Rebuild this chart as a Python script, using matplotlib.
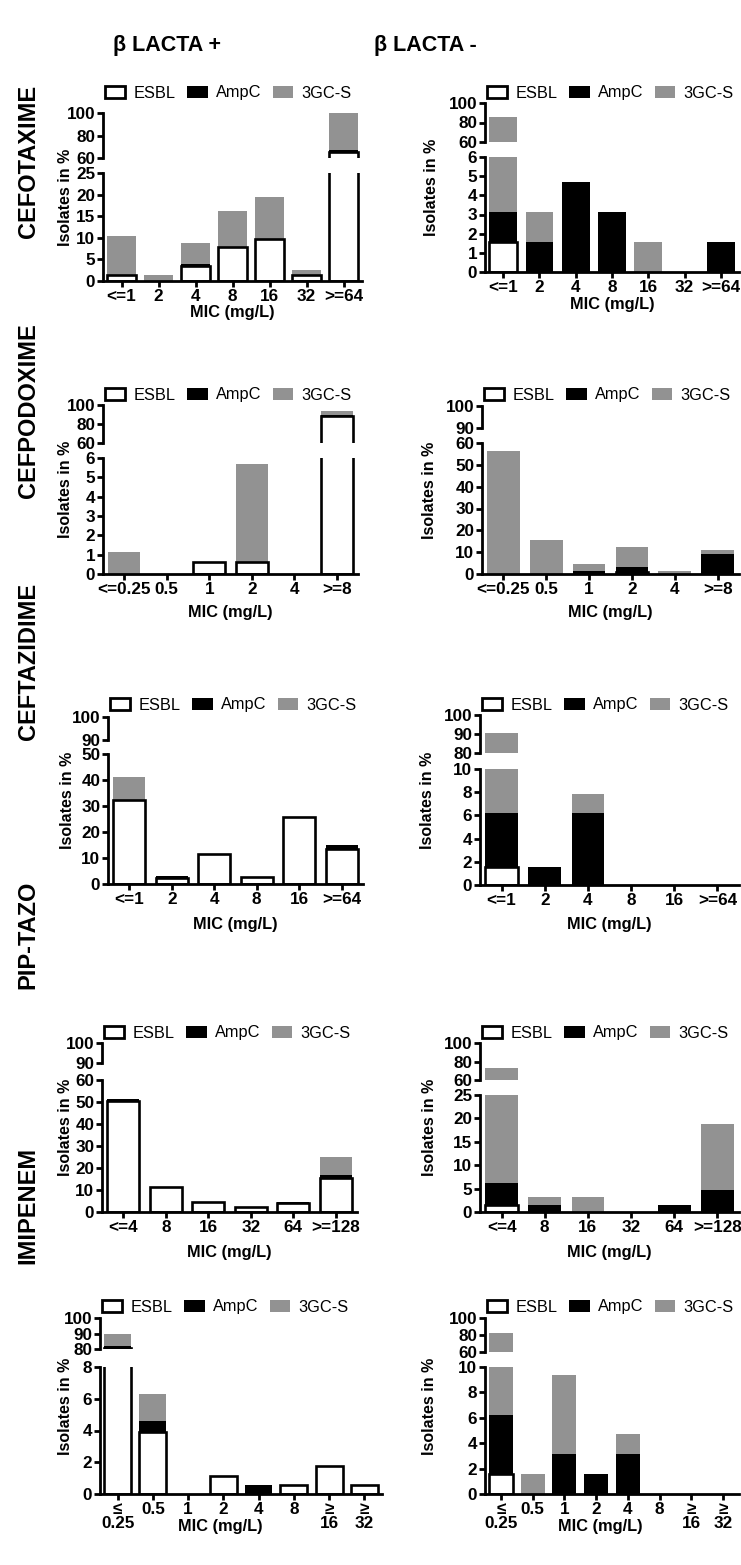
import numpy as np
import matplotlib.pyplot as plt
from matplotlib.patches import Patch

plt.rcParams['font.family'] = ['Liberation Sans', 'DejaVu Sans']

W, H = 741, 1565
GRAY = '#929292'

# ---- data (% isolates per MIC class; ESBL / AmpC / 3GC-S stacked) ----
mic_ctx = ['<=1', '2', '4', '8', '16', '32', '>=64']
ctx_pos_esbl = [1.3, 0, 3.4, 7.9, 9.7, 1.3, 65.5]
ctx_pos_ampc = [0, 0, 0.6, 0, 0, 0, 2.0]
ctx_pos_gc = [9.1, 1.3, 4.7, 8.2, 9.7, 1.2, 32.5]
ctx_neg_esbl = [1.56, 0, 0, 0, 0, 0, 0]
ctx_neg_ampc = [1.56, 1.56, 4.69, 3.13, 0, 0, 1.56]
ctx_neg_gc = [82.9, 1.56, 0, 0, 1.56, 0, 0]

mic_cpd = ['<=0.25', '0.5', '1', '2', '4', '>=8']
cpd_pos_esbl = [0, 0, 0.6, 0.6, 0, 88.0]
cpd_pos_ampc = [0, 0, 0, 0, 0, 1.2]
cpd_pos_gc = [1.15, 0, 0, 5.1, 0, 4.4]
cpd_neg_esbl = [0, 0, 0, 1.0, 0, 0]
cpd_neg_ampc = [0, 0, 1.56, 2.1, 0, 9.38]
cpd_neg_gc = [56.25, 15.63, 3.13, 9.4, 1.56, 1.56]

mic_caz = ['<=1', '2', '4', '8', '16', '>=64']
caz_pos_esbl = [32.3, 2.2, 11.5, 2.7, 25.8, 13.5]
caz_pos_ampc = [0, 0.7, 0, 0, 0, 1.5]
caz_pos_gc = [9.0, 0, 0, 0, 0, 0]
caz_neg_esbl = [1.56, 0, 0, 0, 0, 0]
caz_neg_ampc = [4.69, 1.56, 6.25, 0, 0, 0]
caz_neg_gc = [84.38, 0, 1.56, 0, 0, 0]

mic_tzp = ['<=4', '8', '16', '32', '64', '>=128']
tzp_pos_esbl = [50.5, 11.5, 4.5, 2.3, 4.0, 15.5]
tzp_pos_ampc = [1.0, 0, 0, 0, 0.5, 1.2]
tzp_pos_gc = [0, 0, 0, 0, 0, 8.4]
tzp_neg_esbl = [1.56, 0, 0, 0, 0, 0]
tzp_neg_ampc = [4.69, 1.56, 0, 0, 1.56, 4.69]
tzp_neg_gc = [67.19, 1.56, 3.13, 0, 0, 14.06]

mic_ipm = ['≤\n0.25', '0.5', '1', '2', '4', '8', '≥\n16', '≥\n32']
ipm_pos_esbl = [80.8, 3.9, 0, 1.16, 0, 0.58, 1.74, 0.58]
ipm_pos_ampc = [1.0, 0.7, 0, 0, 0.58, 0, 0, 0]
ipm_pos_gc = [8.2, 1.7, 0, 0, 0, 0, 0, 0]
ipm_neg_esbl = [1.56, 0, 0, 0, 0, 0, 0, 0]
ipm_neg_ampc = [4.69, 0, 3.13, 1.56, 3.13, 0, 0, 0]
ipm_neg_gc = [76.6, 1.56, 6.25, 0, 1.56, 0, 0, 0]

drugs = ['CEFOTAXIME', 'CEFPODOXIME', 'CEFTAZIDIME', 'PIP-TAZO', 'IMIPENEM']
drug_y = [161, 411, 661, 935, 1205]

panels = [
    (mic_ctx, ctx_pos_esbl, ctx_pos_ampc, ctx_pos_gc,
     dict(sx=103, rx=362, ut=113, ub=158, lt=173, lb=281, ulim=(60, 100), uticks=[60, 80, 100],
          llim=(0, 25), lticks=range(0, 26, 5), legy=93, micy=313, ylx=66)),
    (mic_ctx, ctx_neg_esbl, ctx_neg_ampc, ctx_neg_gc,
     dict(sx=485, rx=739, ut=103, ub=142, lt=157, lb=272, ulim=(60, 100), uticks=[60, 80, 100],
          llim=(0, 6), lticks=range(0, 7), legy=93, micy=305, ylx=432)),
    (mic_cpd, cpd_pos_esbl, cpd_pos_ampc, cpd_pos_gc,
     dict(sx=103, rx=358, ut=405, ub=443, lt=458, lb=574, ulim=(60, 100), uticks=[60, 80, 100],
          llim=(0, 6), lticks=range(0, 7), legy=395, micy=613, ylx=66)),
    (mic_cpd, cpd_neg_esbl, cpd_neg_ampc, cpd_neg_gc,
     dict(sx=482, rx=739, ut=406, ub=428, lt=443, lb=574, ulim=(90, 100), uticks=[90, 100],
          llim=(0, 60), lticks=range(0, 61, 10), legy=395, micy=612, ylx=430)),
    (mic_caz, caz_pos_esbl, caz_pos_ampc, caz_pos_gc,
     dict(sx=108, rx=363, ut=717, ub=740, lt=754, lb=884, ulim=(90, 100), uticks=[90, 100],
          llim=(0, 50), lticks=range(0, 51, 10), legy=705, micy=925, ylx=68)),
    (mic_caz, caz_neg_esbl, caz_neg_ampc, caz_neg_gc,
     dict(sx=480, rx=739, ut=715, ub=753, lt=769, lb=885, ulim=(80, 100), uticks=[80, 90, 100],
          llim=(0, 10), lticks=range(0, 11, 2), legy=705, micy=925, ylx=428)),
    (mic_tzp, tzp_pos_esbl, tzp_pos_ampc, tzp_pos_gc,
     dict(sx=102, rx=357, ut=1043, ub=1063, lt=1080, lb=1212, ulim=(90, 100), uticks=[90, 100],
          llim=(0, 60), lticks=range(0, 61, 10), legy=1033, micy=1252, ylx=66)),
    (mic_tzp, tzp_neg_esbl, tzp_neg_ampc, tzp_neg_gc,
     dict(sx=480, rx=739, ut=1043, ub=1080, lt=1095, lb=1212, ulim=(60, 100), uticks=[60, 80, 100],
          llim=(0, 25), lticks=range(0, 26, 5), legy=1033, micy=1252, ylx=430)),
    (mic_ipm, ipm_pos_esbl, ipm_pos_ampc, ipm_pos_gc,
     dict(sx=100, rx=382, ut=1318, ub=1349, lt=1367, lb=1494, ulim=(80, 100), uticks=[80, 90, 100],
          llim=(0, 8), lticks=range(0, 9, 2), legy=1307, micy=1526, micx=220, ylx=66)),
    (mic_ipm, ipm_neg_esbl, ipm_neg_ampc, ipm_neg_gc,
     dict(sx=485, rx=739, ut=1318, ub=1352, lt=1367, lb=1494, ulim=(60, 100), uticks=[60, 80, 100],
          llim=(0, 10), lticks=range(0, 11, 2), legy=1307, micy=1526, micx=600, ylx=430)),
]

fig = plt.figure(figsize=(W / 100, H / 100), dpi=100)


def px_axes(x0, x1, ytop, ybot):
    return fig.add_axes([x0 / W, 1 - ybot / H, (x1 - x0) / W, (ybot - ytop) / H])


def stack(ax, x, esbl, ampc, gc, width=0.76):
    esbl, ampc, gc = np.array(esbl), np.array(ampc), np.array(gc)
    bars = ax.bar(x, esbl, width, color='white', edgecolor='black', linewidth=1.9, zorder=4)
    for b, h in zip(bars, esbl):
        if h == 0:
            b.set_visible(False)
    ax.bar(x, ampc, width, bottom=esbl, color='black', linewidth=0, zorder=3)
    ax.bar(x, gc, width, bottom=esbl + ampc, color=GRAY, linewidth=0, zorder=3)


def style(ax):
    for s in ['top', 'right']:
        ax.spines[s].set_visible(False)
    for s in ['left', 'bottom']:
        ax.spines[s].set_linewidth(2)
        ax.spines[s].set_zorder(6)
    ax.tick_params(direction='out', length=4, width=2, pad=1.5, labelsize=12.3)
    for t in ax.get_yticklabels() + ax.get_xticklabels():
        t.set_fontweight('bold')


handles = [Patch(facecolor='white', edgecolor='black', linewidth=2),
           Patch(facecolor='black'), Patch(facecolor=GRAY)]

for cats, esbl, ampc, gc, L in panels:
    n = len(cats)
    x = np.arange(n)
    lo = px_axes(L['sx'], L['rx'], L['lt'], L['lb'])
    up = px_axes(L['sx'], L['rx'], L['ut'], L['ub'])
    for ax in (lo, up):
        stack(ax, x, esbl, ampc, gc)
        ax.set_xlim(-0.5, n - 0.5)
    lo.set_ylim(*L['llim'])
    lo.set_yticks(list(L['lticks']))
    lo.set_xticks(x)
    lo.set_xticklabels(cats, linespacing=0.95)
    up.set_ylim(*L['ulim'])
    up.set_yticks(L['uticks'])
    up.set_xticks([])
    style(lo)
    style(up)
    up.spines['bottom'].set_visible(False)

    fig.legend(handles, ['ESBL', 'AmpC', '3GC-S'], loc='center left',
               bbox_to_anchor=((L['sx'] + 2) / W, 1 - L['legy'] / H), ncol=3,
               frameon=False, handlelength=1.25, handleheight=0.8, handletextpad=0.5,
               columnspacing=0.7, borderpad=0, borderaxespad=0, fontsize=11.8)
    micx = L.get('micx', (L['sx'] + L['rx']) / 2)
    fig.text(micx / W, 1 - L['micy'] / H, 'MIC (mg/L)', ha='center', va='center',
             fontsize=11.8, fontweight='bold')
    fig.text(L['ylx'] / W, 1 - (L['ut'] + L['lb']) / 2 / H, 'Isolates in %', rotation=90,
             ha='center', va='center', fontsize=11.5, fontweight='bold')

fig.text(167 / W, 1 - 45 / H, 'β LACTA +', ha='center', va='center', fontsize=15.5,
         fontweight='bold')
fig.text(425 / W, 1 - 45 / H, 'β LACTA -', ha='center', va='center', fontsize=15.5,
         fontweight='bold')
for name, yc in zip(drugs, drug_y):
    fig.text(28 / W, 1 - yc / H, name, rotation=90, ha='center', va='center', fontsize=17,
             fontweight='bold')

fig.savefig('out.png', dpi=100)
